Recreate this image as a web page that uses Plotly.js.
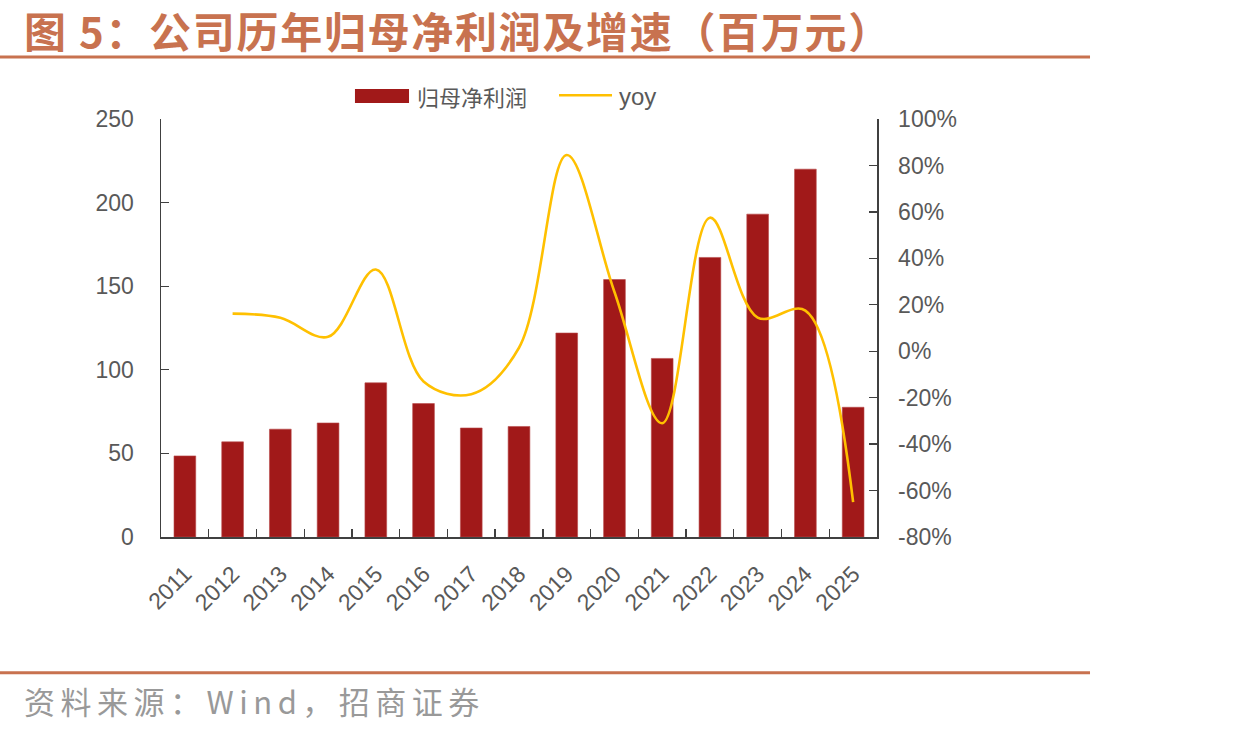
<!DOCTYPE html>
<html>
<head>
<meta charset="utf-8">
<script src="https://cdn.plot.ly/plotly-3.0.1.min.js"></script>
<style>
  html, body { margin: 0; padding: 0; background: #ffffff; }
  #chart { width: 1245px; height: 733px; }
</style>
</head>
<body>
<div id="chart"></div>
<script>
// 年份
const years = ['2011', '2012', '2013', '2014', '2015', '2016', '2017', '2018',
               '2019', '2020', '2021', '2022', '2023', '2024', '2025'];
// 归母净利润（百万元）
const netProfit = [48.5, 56.9, 64.5, 68.2, 92.2, 79.8, 65.2, 66.1,
                   122, 154, 106.8, 167.2, 193.1, 220, 77.6];
// 同比增速（%）
const yoy = [null, 16.2, 14.4, 6.2, 35.2, -13, -18.5, 1.5,
             84.5, 25.5, -31, 57.5, 14.5, 17.5, -65];
// 右轴刻度（%）及其标签
const yoyTicks = [-80, -60, -40, -20, 0, 20, 40, 60, 80, 100];
const yoyTickLabels = ['-80%', '-60%', '-40%', '-20%', '0%', '20%', '40%', '60%', '80%', '100%'];

const titleText = '图 5：公司历年归母净利润及增速（百万元）';
const sourceText = '资料来源：Wind，招商证券';
const barName = '归母净利润';
const lineName = 'yoy';

const BAR_COLOR = '#A11919';
const LINE_COLOR = '#FFC000';
const ACCENT = '#C8724F';
const TICK_COLOR = '#595959';
const AXIS_COLOR = '#404040';
const LATIN = '"Liberation Sans", Arial, sans-serif';
const CJK = '"Noto Sans CJK SC", "Liberation Sans", sans-serif';

const traces = [
  {
    type: 'bar',
    name: barName,
    x: years,
    y: netProfit,
    width: 0.455,
    marker: { color: BAR_COLOR, line: { color: '#B84A4A', width: 0.6 } },
    yaxis: 'y',
    hoverinfo: 'x+y'
  },
  {
    type: 'scatter',
    mode: 'lines',
    name: lineName,
    x: years,
    y: yoy,
    yaxis: 'y2',
    line: { color: LINE_COLOR, width: 2.6, shape: 'spline', smoothing: 1 },
    connectgaps: false
  }
];

const tickFont = { family: LATIN, size: 23, color: TICK_COLOR };

const layout = {
  width: 1245,
  height: 733,
  margin: { l: 161, r: 368, t: 119, b: 196, pad: 0 },
  paper_bgcolor: '#ffffff',
  plot_bgcolor: '#ffffff',
  showlegend: false,
  xaxis: {
    type: 'category',
    range: [-0.5, 14.5],
    tickangle: -45,
    ticks: 'inside',
    tickson: 'boundaries',
    ticklen: 8,
    tickwidth: 1.3,
    tickcolor: AXIS_COLOR,
    showline: true,
    linecolor: AXIS_COLOR,
    linewidth: 1.5,
    showgrid: false,
    zeroline: false,
    tickfont: tickFont,
    ticklabelstandoff: 13,
    fixedrange: true
  },
  yaxis: {
    range: [0, 250],
    tick0: 0,
    dtick: 50,
    ticks: 'inside',
    ticklen: 8,
    tickwidth: 1.3,
    tickcolor: AXIS_COLOR,
    showline: true,
    linecolor: AXIS_COLOR,
    linewidth: 1.5,
    showgrid: false,
    zeroline: false,
    tickfont: tickFont,
    ticklabelstandoff: 21,
    fixedrange: true
  },
  yaxis2: {
    overlaying: 'y',
    side: 'right',
    range: [-80, 100],
    tickmode: 'array',
    tickvals: yoyTicks,
    ticktext: yoyTickLabels,
    ticks: 'inside',
    ticklen: 8,
    tickwidth: 1.3,
    tickcolor: AXIS_COLOR,
    showline: true,
    linecolor: AXIS_COLOR,
    linewidth: 1.5,
    showgrid: false,
    zeroline: false,
    tickfont: tickFont,
    ticklabelstandoff: 15,
    fixedrange: true
  },
  shapes: [
    // 标题下分隔线
    { type: 'line', xref: 'paper', yref: 'paper', x0: -0.2249, x1: 1.2975, y0: 1.1483, y1: 1.1483,
      line: { color: ACCENT, width: 3 } },
    // 来源上分隔线
    { type: 'line', xref: 'paper', yref: 'paper', x0: -0.2249, x1: 1.2975, y0: -0.3246, y1: -0.3246,
      line: { color: ACCENT, width: 3 } },
    // 图例：柱
    { type: 'rect', xref: 'paper', yref: 'paper', x0: 0.2709, x1: 0.3464, y0: 1.0383, y1: 1.0718,
      fillcolor: BAR_COLOR, line: { width: 0 } },
    // 图例：线
    { type: 'line', xref: 'paper', yref: 'paper', x0: 0.5559, x1: 0.6299, y0: 1.0567, y1: 1.0567,
      line: { color: LINE_COLOR, width: 2.6 } }
  ],
  annotations: [
    { text: titleText, xref: 'paper', yref: 'paper', x: -0.1941, y: 1.2153,
      xanchor: 'left', yanchor: 'middle', showarrow: false,
      font: { family: CJK, size: 42, color: ACCENT, weight: 'bold' } },
    { text: sourceText, xref: 'paper', yref: 'paper', x: -0.1941, y: -0.39,
      xanchor: 'left', yanchor: 'middle', showarrow: false,
      font: { family: CJK, size: 31, color: '#999999' } },
    { text: barName, xref: 'paper', yref: 'paper', x: 0.3547, y: 1.055,
      xanchor: 'left', yanchor: 'middle', showarrow: false,
      font: { family: CJK, size: 22, color: TICK_COLOR } },
    { text: lineName, xref: 'paper', yref: 'paper', x: 0.6369, y: 1.055,
      xanchor: 'left', yanchor: 'middle', showarrow: false,
      font: { family: LATIN, size: 24, color: TICK_COLOR } }
  ]
};

// 标题与来源文字的字距（保持左端位置不变）
const letterSpacing = { [titleText]: '1.7px', [sourceText]: '5.5px' };

Plotly.newPlot('chart', traces, layout, { displayModeBar: false, staticPlot: true })
  .then(function (gd) {
    gd.querySelectorAll('.annotation-text').forEach(function (el) {
      const s = letterSpacing[el.textContent];
      if (!s) return;
      const box = el.getBBox();
      el.setAttribute('text-anchor', 'start');
      el.setAttribute('x', box.x);
      el.style.letterSpacing = s;
    });
  });
</script>
</body>
</html>
